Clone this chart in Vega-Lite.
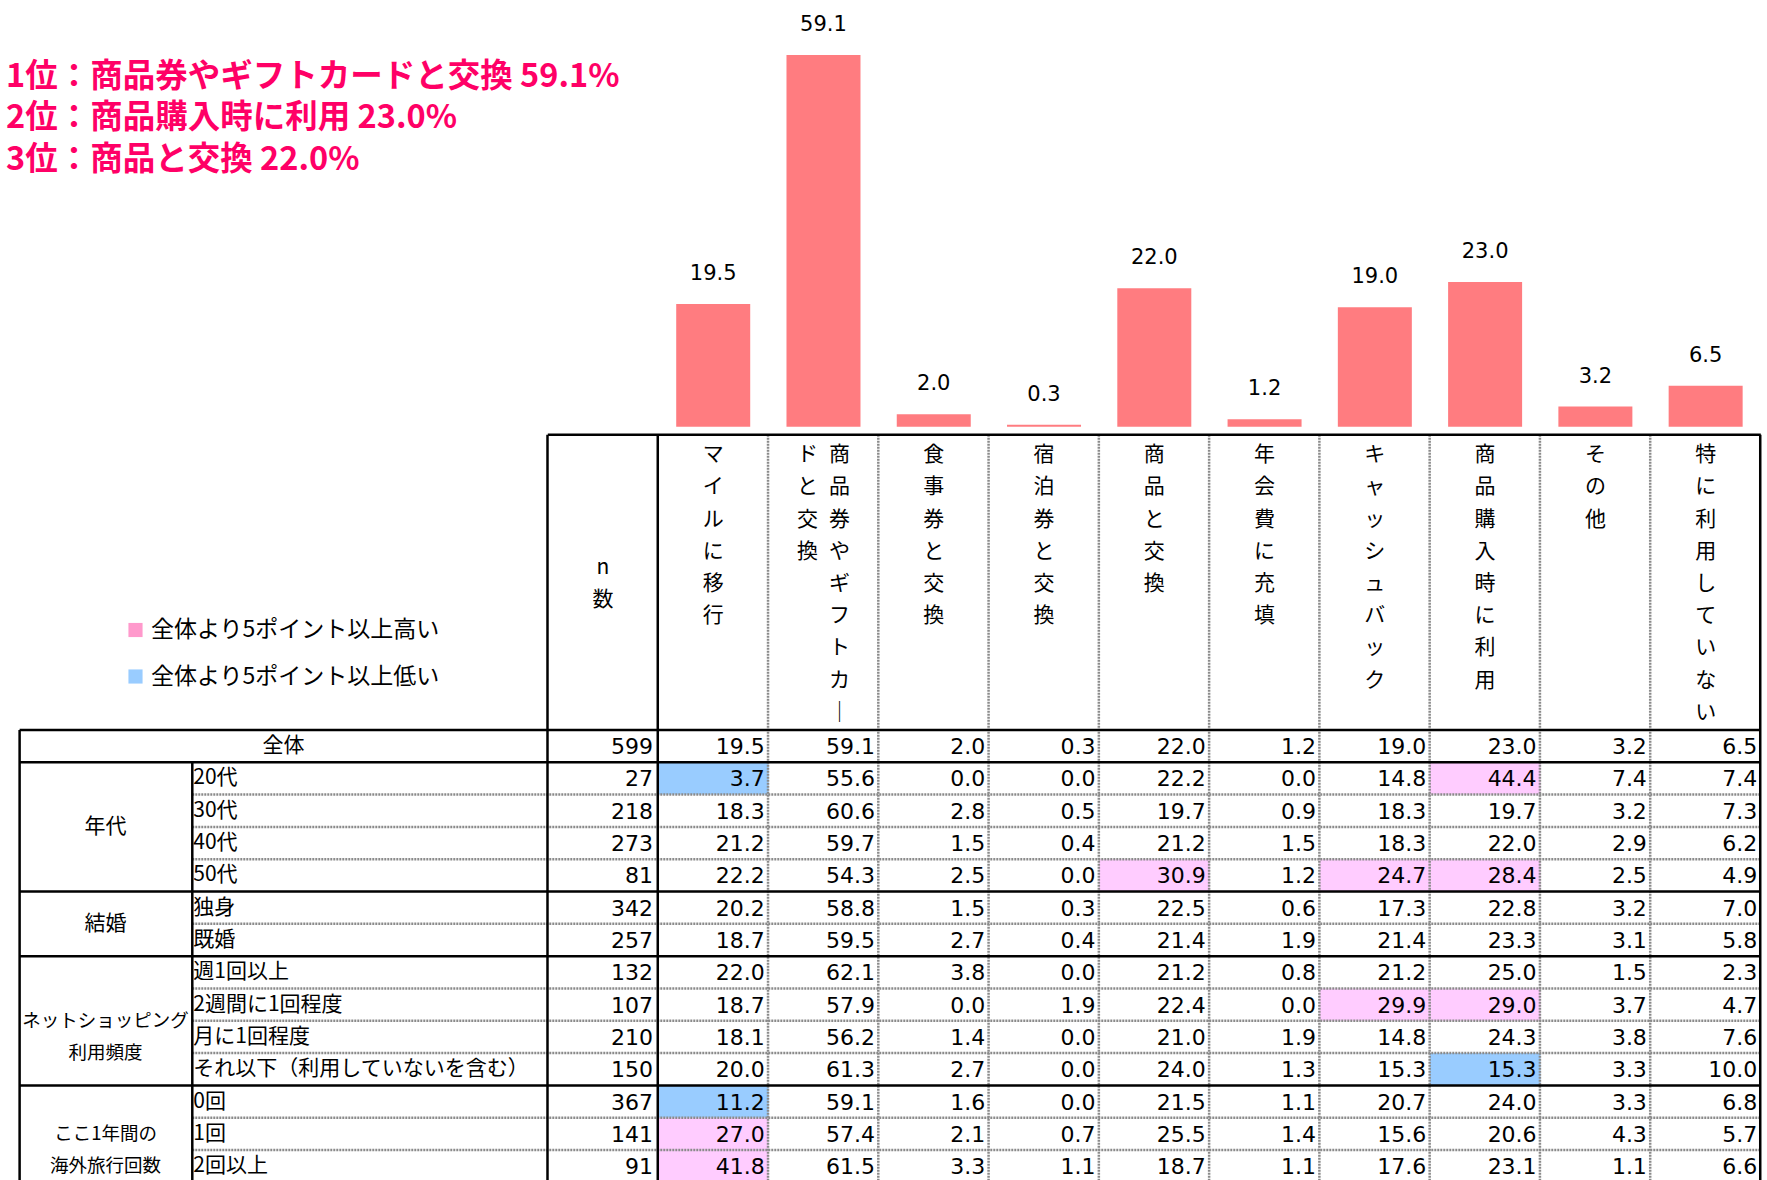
{
"$schema":"https://vega.github.io/schema/vega-lite/v6.json",
"width":1767,"height":1180,
"autosize":{"type":"none"},
"padding":0,
"background":"white",
"config":{"view":{"stroke":null},"axis":{"disable":true}},
"datasets":{
"cells":[
{"r":0,"c":1,"v":19.5},{"r":0,"c":2,"v":59.1},{"r":0,"c":3,"v":2.0},{"r":0,"c":4,"v":0.3},{"r":0,"c":5,"v":22.0},{"r":0,"c":6,"v":1.2},{"r":0,"c":7,"v":19.0},{"r":0,"c":8,"v":23.0},{"r":0,"c":9,"v":3.2},{"r":0,"c":10,"v":6.5},
{"r":1,"c":1,"v":3.7,"h":"低い"},{"r":1,"c":2,"v":55.6},{"r":1,"c":3,"v":0.0},{"r":1,"c":4,"v":0.0},{"r":1,"c":5,"v":22.2},{"r":1,"c":6,"v":0.0},{"r":1,"c":7,"v":14.8},{"r":1,"c":8,"v":44.4,"h":"高い"},{"r":1,"c":9,"v":7.4},{"r":1,"c":10,"v":7.4},
{"r":2,"c":1,"v":18.3},{"r":2,"c":2,"v":60.6},{"r":2,"c":3,"v":2.8},{"r":2,"c":4,"v":0.5},{"r":2,"c":5,"v":19.7},{"r":2,"c":6,"v":0.9},{"r":2,"c":7,"v":18.3},{"r":2,"c":8,"v":19.7},{"r":2,"c":9,"v":3.2},{"r":2,"c":10,"v":7.3},
{"r":3,"c":1,"v":21.2},{"r":3,"c":2,"v":59.7},{"r":3,"c":3,"v":1.5},{"r":3,"c":4,"v":0.4},{"r":3,"c":5,"v":21.2},{"r":3,"c":6,"v":1.5},{"r":3,"c":7,"v":18.3},{"r":3,"c":8,"v":22.0},{"r":3,"c":9,"v":2.9},{"r":3,"c":10,"v":6.2},
{"r":4,"c":1,"v":22.2},{"r":4,"c":2,"v":54.3},{"r":4,"c":3,"v":2.5},{"r":4,"c":4,"v":0.0},{"r":4,"c":5,"v":30.9,"h":"高い"},{"r":4,"c":6,"v":1.2},{"r":4,"c":7,"v":24.7,"h":"高い"},{"r":4,"c":8,"v":28.4,"h":"高い"},{"r":4,"c":9,"v":2.5},{"r":4,"c":10,"v":4.9},
{"r":5,"c":1,"v":20.2},{"r":5,"c":2,"v":58.8},{"r":5,"c":3,"v":1.5},{"r":5,"c":4,"v":0.3},{"r":5,"c":5,"v":22.5},{"r":5,"c":6,"v":0.6},{"r":5,"c":7,"v":17.3},{"r":5,"c":8,"v":22.8},{"r":5,"c":9,"v":3.2},{"r":5,"c":10,"v":7.0},
{"r":6,"c":1,"v":18.7},{"r":6,"c":2,"v":59.5},{"r":6,"c":3,"v":2.7},{"r":6,"c":4,"v":0.4},{"r":6,"c":5,"v":21.4},{"r":6,"c":6,"v":1.9},{"r":6,"c":7,"v":21.4},{"r":6,"c":8,"v":23.3},{"r":6,"c":9,"v":3.1},{"r":6,"c":10,"v":5.8},
{"r":7,"c":1,"v":22.0},{"r":7,"c":2,"v":62.1},{"r":7,"c":3,"v":3.8},{"r":7,"c":4,"v":0.0},{"r":7,"c":5,"v":21.2},{"r":7,"c":6,"v":0.8},{"r":7,"c":7,"v":21.2},{"r":7,"c":8,"v":25.0},{"r":7,"c":9,"v":1.5},{"r":7,"c":10,"v":2.3},
{"r":8,"c":1,"v":18.7},{"r":8,"c":2,"v":57.9},{"r":8,"c":3,"v":0.0},{"r":8,"c":4,"v":1.9},{"r":8,"c":5,"v":22.4},{"r":8,"c":6,"v":0.0},{"r":8,"c":7,"v":29.9,"h":"高い"},{"r":8,"c":8,"v":29.0,"h":"高い"},{"r":8,"c":9,"v":3.7},{"r":8,"c":10,"v":4.7},
{"r":9,"c":1,"v":18.1},{"r":9,"c":2,"v":56.2},{"r":9,"c":3,"v":1.4},{"r":9,"c":4,"v":0.0},{"r":9,"c":5,"v":21.0},{"r":9,"c":6,"v":1.9},{"r":9,"c":7,"v":14.8},{"r":9,"c":8,"v":24.3},{"r":9,"c":9,"v":3.8},{"r":9,"c":10,"v":7.6},
{"r":10,"c":1,"v":20.0},{"r":10,"c":2,"v":61.3},{"r":10,"c":3,"v":2.7},{"r":10,"c":4,"v":0.0},{"r":10,"c":5,"v":24.0},{"r":10,"c":6,"v":1.3},{"r":10,"c":7,"v":15.3},{"r":10,"c":8,"v":15.3,"h":"低い"},{"r":10,"c":9,"v":3.3},{"r":10,"c":10,"v":10.0},
{"r":11,"c":1,"v":11.2,"h":"低い"},{"r":11,"c":2,"v":59.1},{"r":11,"c":3,"v":1.6},{"r":11,"c":4,"v":0.0},{"r":11,"c":5,"v":21.5},{"r":11,"c":6,"v":1.1},{"r":11,"c":7,"v":20.7},{"r":11,"c":8,"v":24.0},{"r":11,"c":9,"v":3.3},{"r":11,"c":10,"v":6.8},
{"r":12,"c":1,"v":27.0,"h":"高い"},{"r":12,"c":2,"v":57.4},{"r":12,"c":3,"v":2.1},{"r":12,"c":4,"v":0.7},{"r":12,"c":5,"v":25.5},{"r":12,"c":6,"v":1.4},{"r":12,"c":7,"v":15.6},{"r":12,"c":8,"v":20.6},{"r":12,"c":9,"v":4.3},{"r":12,"c":10,"v":5.7},
{"r":13,"c":1,"v":41.8,"h":"高い"},{"r":13,"c":2,"v":61.5},{"r":13,"c":3,"v":3.3},{"r":13,"c":4,"v":1.1},{"r":13,"c":5,"v":18.7},{"r":13,"c":6,"v":1.1},{"r":13,"c":7,"v":17.6},{"r":13,"c":8,"v":23.1},{"r":13,"c":9,"v":1.1},{"r":13,"c":10,"v":6.6}
],
"rows":[
{"r":0,"g":"全体","t":"全体","n":599},
{"r":1,"g":"年代","t":"20代","n":27},
{"r":2,"g":"年代","t":"30代","n":218},
{"r":3,"g":"年代","t":"40代","n":273},
{"r":4,"g":"年代","t":"50代","n":81},
{"r":5,"g":"結婚","t":"独身","n":342},
{"r":6,"g":"結婚","t":"既婚","n":257},
{"r":7,"g":"ネットショッピング\n利用頻度","t":"週1回以上","n":132},
{"r":8,"g":"ネットショッピング\n利用頻度","t":"2週間に1回程度","n":107},
{"r":9,"g":"ネットショッピング\n利用頻度","t":"月に1回程度","n":210},
{"r":10,"g":"ネットショッピング\n利用頻度","t":"それ以下（利用していないを含む）","n":150},
{"r":11,"g":"ここ1年間の\n海外旅行回数","t":"0回","n":367},
{"r":12,"g":"ここ1年間の\n海外旅行回数","t":"1回","n":141},
{"r":13,"g":"ここ1年間の\n海外旅行回数","t":"2回以上","n":91}
],
"heads":[
{"c":0,"t":["n","数"]},
{"c":1,"t":["マ","イ","ル","に","移","行"]},
{"c":2,"t":["商","品","券","や","ギ","フ","ト","カ","｜"],"t2":["ド","と","交","換"]},
{"c":3,"t":["食","事","券","と","交","換"]},
{"c":4,"t":["宿","泊","券","と","交","換"]},
{"c":5,"t":["商","品","と","交","換"]},
{"c":6,"t":["年","会","費","に","充","填"]},
{"c":7,"t":["キ","ャ","ッ","シ","ュ","バ","ッ","ク"]},
{"c":8,"t":["商","品","購","入","時","に","利","用"]},
{"c":9,"t":["そ","の","他"]},
{"c":10,"t":["特","に","利","用","し","て","い","な","い"]}
]
},
"resolve":{"scale":{"y":"independent"}},
"layer":[
{"layer":[
 {"data":{"name":"cells"},"transform":[{"filter":"datum.r == 0"}],
  "mark":{"type":"bar","orient":"vertical","width":74,"color":"#FF7C80"},
  "encoding":{"x":{"field":"c","type":"quantitative","scale":{"domain":[-5.4225,10.511],"nice":false,"zero":false}},
   "y":{"field":"v","type":"quantitative","scale":{"domain":[-119.78,67.85],"nice":false,"zero":false}},
   "y2":{"datum":0}}},
 {"data":{"name":"cells"},"transform":[{"filter":"datum.r == 0"}],
  "mark":{"type":"text","baseline":"alphabetic","dy":-24,"font":"DejaVu Sans","fontSize":21,"color":"#000000"},
  "encoding":{"x":{"field":"c","type":"quantitative","scale":{"domain":[-5.4225,10.511],"nice":false,"zero":false}},
   "y":{"field":"v","type":"quantitative","scale":{"domain":[-119.78,67.85],"nice":false,"zero":false}},
   "text":{"field":"v","type":"quantitative","format":".1f"}}},
 {"data":{"values":[{}]},
  "mark":{"type":"text","align":"left","baseline":"top","font":"Noto Sans CJK JP","fontSize":32.5,"fontWeight":"bold","color":"#FF0066","lineHeight":41.5},
  "encoding":{"x":{"datum":-5.4135,"type":"quantitative","scale":{"domain":[-5.4225,10.511],"nice":false,"zero":false}},
   "y":{"datum":58.17,"type":"quantitative","scale":{"domain":[-119.78,67.85],"nice":false,"zero":false}},
   "text":{"value":["1位：商品券やギフトカードと交換 59.1%","2位：商品購入時に利用 23.0%","3位：商品と交換 22.0%"]}}}
]},
{"layer":[
 {"data":{"name":"cells"},"transform":[{"filter":"isValid(datum.h)"}],
  "mark":{"type":"square","size":150,"opacity":1,"filled":true},
  "encoding":{"x":{"field":"c","type":"quantitative","scale":{"domain":[-5.4225,10.511],"nice":false,"zero":false}},
   "y":{"field":"r","type":"quantitative","scale":{"domain":[-23.094,13.428],"nice":false,"zero":false,"reverse":true}},
   "color":{"field":"h","type":"nominal","scale":{"domain":["高い","低い"],"range":["#FF99CC","#99CCFF"]},
    "legend":{"orient":"none","legendX":124,"legendY":618.5,"title":null,"direction":"vertical","padding":0,
     "symbolType":"square","symbolSize":200,"symbolStrokeWidth":0,"symbolOpacity":1,"labelOffset":4,"rowPadding":22.5,
     "labelFont":"Noto Sans CJK JP","labelFontSize":23,"labelColor":"#000000","labelLimit":500,
     "labelExpr":"'全体より5ポイント以上' + datum.label"}}}},
 {"data":{"name":"cells"},"transform":[{"filter":"isValid(datum.h)"}],
  "mark":{"type":"rect","xOffset":-55.45,"x2Offset":55.45,"yOffset":-16.155,"y2Offset":16.155},
  "encoding":{"x":{"field":"c","type":"quantitative","scale":{"domain":[-5.4225,10.511],"nice":false,"zero":false}},
   "x2":{"field":"c"},
   "y":{"field":"r","type":"quantitative","scale":{"domain":[-23.094,13.428],"nice":false,"zero":false,"reverse":true}},
   "y2":{"field":"r"},
   "fill":{"field":"h","type":"nominal","scale":{"domain":["高い","低い"],"range":["#FFCCFF","#99CCFF"]},"legend":null}}},
 {"data":{"name":"rows"},
  "transform":[{"window":[{"op":"max","field":"r","as":"rmax"}],"groupby":["g"],"frame":[null,null]},{"filter":"datum.r != datum.rmax"}],
  "mark":{"type":"rule","yOffset":16.155,"color":"#8a8a8a","strokeWidth":2.5,"strokeDash":[2,1]},
  "encoding":{"x":{"datum":-3.724,"type":"quantitative","scale":{"domain":[-5.4225,10.511],"nice":false,"zero":false}},
   "x2":{"datum":10.49},
   "y":{"field":"r","type":"quantitative","scale":{"domain":[-23.094,13.428],"nice":false,"zero":false,"reverse":true}}}},
 {"data":{"name":"heads"},"transform":[{"filter":"datum.c >= 2"}],
  "mark":{"type":"rule","xOffset":-55.45,"color":"#8a8a8a","strokeWidth":2.5,"strokeDash":[2,1]},
  "encoding":{"x":{"field":"c","type":"quantitative","scale":{"domain":[-5.4225,10.511],"nice":false,"zero":false}},
   "y":{"datum":-9.64,"type":"quantitative","scale":{"domain":[-23.094,13.428],"nice":false,"zero":false,"reverse":true}},
   "y2":{"datum":13.5}}},
 {"data":{"name":"rows"},
  "transform":[{"window":[{"op":"max","field":"r","as":"rmax"}],"groupby":["g"],"frame":[null,null]},{"filter":"datum.r == datum.rmax && datum.r < 13"}],
  "mark":{"type":"rule","yOffset":16.155,"color":"#000000","strokeWidth":2.5},
  "encoding":{"x":{"datum":-5.29,"type":"quantitative","scale":{"domain":[-5.4225,10.511],"nice":false,"zero":false}},
   "x2":{"datum":10.5},
   "y":{"field":"r","type":"quantitative","scale":{"domain":[-23.094,13.428],"nice":false,"zero":false,"reverse":true}}}},
 {"data":{"values":[{}]},
  "mark":{"type":"rule","color":"#000000","strokeWidth":2.5},
  "encoding":{"x":{"datum":-5.29,"type":"quantitative","scale":{"domain":[-5.4225,10.511],"nice":false,"zero":false}},
   "x2":{"datum":10.5},
   "y":{"datum":-0.5,"type":"quantitative","scale":{"domain":[-23.094,13.428],"nice":false,"zero":false,"reverse":true}}}},
 {"data":{"values":[{}]},
  "mark":{"type":"rule","color":"#000000","strokeWidth":2.5},
  "encoding":{"x":{"datum":-0.5,"type":"quantitative","scale":{"domain":[-5.4225,10.511],"nice":false,"zero":false}},
   "x2":{"datum":10.5},
   "y":{"datum":-9.64,"type":"quantitative","scale":{"domain":[-23.094,13.428],"nice":false,"zero":false,"reverse":true}}}},
 {"data":{"name":"heads"},"transform":[{"filter":"datum.c <= 1"}],
  "mark":{"type":"rule","xOffset":-55.45,"color":"#000000","strokeWidth":2.5},
  "encoding":{"x":{"field":"c","type":"quantitative","scale":{"domain":[-5.4225,10.511],"nice":false,"zero":false}},
   "y":{"datum":-9.64,"type":"quantitative","scale":{"domain":[-23.094,13.428],"nice":false,"zero":false,"reverse":true}},
   "y2":{"datum":13.5}}},
 {"data":{"values":[{}]},
  "mark":{"type":"rule","color":"#000000","strokeWidth":2.5},
  "encoding":{"x":{"datum":10.495,"type":"quantitative","scale":{"domain":[-5.4225,10.511],"nice":false,"zero":false}},
   "y":{"datum":-9.64,"type":"quantitative","scale":{"domain":[-23.094,13.428],"nice":false,"zero":false,"reverse":true}},
   "y2":{"datum":13.5}}},
 {"data":{"values":[{}]},
  "mark":{"type":"rule","color":"#000000","strokeWidth":2.5},
  "encoding":{"x":{"datum":-5.29,"type":"quantitative","scale":{"domain":[-5.4225,10.511],"nice":false,"zero":false}},
   "y":{"datum":-0.5,"type":"quantitative","scale":{"domain":[-23.094,13.428],"nice":false,"zero":false,"reverse":true}},
   "y2":{"datum":13.5}}},
 {"data":{"values":[{}]},
  "mark":{"type":"rule","color":"#000000","strokeWidth":2.5},
  "encoding":{"x":{"datum":-3.724,"type":"quantitative","scale":{"domain":[-5.4225,10.511],"nice":false,"zero":false}},
   "y":{"datum":0.5,"type":"quantitative","scale":{"domain":[-23.094,13.428],"nice":false,"zero":false,"reverse":true}},
   "y2":{"datum":13.5}}},
 {"data":{"name":"heads"},"transform":[{"filter":"datum.c >= 1 && datum.c != 2"}],
  "mark":{"type":"text","align":"center","baseline":"top","font":"Noto Sans CJK JP","fontSize":21,"color":"#000000","lineHeight":32.2},
  "encoding":{"x":{"field":"c","type":"quantitative","scale":{"domain":[-5.4225,10.511],"nice":false,"zero":false}},
   "y":{"datum":-9.3425,"type":"quantitative","scale":{"domain":[-23.094,13.428],"nice":false,"zero":false,"reverse":true}},
   "text":{"field":"t","type":"nominal"}}},
 {"data":{"name":"heads"},"transform":[{"filter":"datum.c == 2"}],
  "mark":{"type":"text","align":"center","baseline":"top","dx":16,"font":"Noto Sans CJK JP","fontSize":21,"color":"#000000","lineHeight":32.2},
  "encoding":{"x":{"field":"c","type":"quantitative","scale":{"domain":[-5.4225,10.511],"nice":false,"zero":false}},
   "y":{"datum":-9.3425,"type":"quantitative","scale":{"domain":[-23.094,13.428],"nice":false,"zero":false,"reverse":true}},
   "text":{"field":"t","type":"nominal"}}},
 {"data":{"name":"heads"},"transform":[{"filter":"datum.c == 2"}],
  "mark":{"type":"text","align":"center","baseline":"top","dx":-16,"font":"Noto Sans CJK JP","fontSize":21,"color":"#000000","lineHeight":32.2},
  "encoding":{"x":{"field":"c","type":"quantitative","scale":{"domain":[-5.4225,10.511],"nice":false,"zero":false}},
   "y":{"datum":-9.3425,"type":"quantitative","scale":{"domain":[-23.094,13.428],"nice":false,"zero":false,"reverse":true}},
   "text":{"field":"t2","type":"nominal"}}},
 {"data":{"name":"heads"},"transform":[{"filter":"datum.c == 0"}],
  "mark":{"type":"text","align":"center","baseline":"top","font":"Noto Sans CJK JP","fontSize":21,"color":"#000000","lineHeight":31.6},
  "encoding":{"x":{"field":"c","type":"quantitative","scale":{"domain":[-5.4225,10.511],"nice":false,"zero":false}},
   "y":{"datum":-5.851,"type":"quantitative","scale":{"domain":[-23.094,13.428],"nice":false,"zero":false,"reverse":true}},
   "text":{"field":"t","type":"nominal"}}},
 {"data":{"name":"cells"},
  "mark":{"type":"text","align":"right","baseline":"middle","dx":51.5,"dy":1,"font":"DejaVu Sans","fontSize":22,"color":"#000000"},
  "encoding":{"x":{"field":"c","type":"quantitative","scale":{"domain":[-5.4225,10.511],"nice":false,"zero":false}},
   "y":{"field":"r","type":"quantitative","scale":{"domain":[-23.094,13.428],"nice":false,"zero":false,"reverse":true}},
   "text":{"field":"v","type":"quantitative","format":".1f"}}},
 {"data":{"name":"rows"},
  "mark":{"type":"text","align":"right","baseline":"middle","dx":50,"dy":1,"font":"DejaVu Sans","fontSize":22,"color":"#000000"},
  "encoding":{"x":{"datum":0,"type":"quantitative","scale":{"domain":[-5.4225,10.511],"nice":false,"zero":false}},
   "y":{"field":"r","type":"quantitative","scale":{"domain":[-23.094,13.428],"nice":false,"zero":false,"reverse":true}},
   "text":{"field":"n","type":"quantitative","format":"d"}}},
 {"data":{"name":"rows"},"transform":[{"filter":"datum.r > 0"}],
  "mark":{"type":"text","align":"left","baseline":"middle","dx":1,"font":"Noto Sans CJK JP","fontSize":21,"color":"#000000"},
  "encoding":{"x":{"datum":-3.724,"type":"quantitative","scale":{"domain":[-5.4225,10.511],"nice":false,"zero":false}},
   "y":{"field":"r","type":"quantitative","scale":{"domain":[-23.094,13.428],"nice":false,"zero":false,"reverse":true}},
   "text":{"field":"t","type":"nominal"}}},
 {"data":{"name":"rows"},"transform":[{"filter":"datum.r == 0"}],
  "mark":{"type":"text","align":"center","baseline":"middle","font":"Noto Sans CJK JP","fontSize":21,"color":"#000000"},
  "encoding":{"x":{"datum":-2.898,"type":"quantitative","scale":{"domain":[-5.4225,10.511],"nice":false,"zero":false}},
   "y":{"field":"r","type":"quantitative","scale":{"domain":[-23.094,13.428],"nice":false,"zero":false,"reverse":true}},
   "text":{"field":"t","type":"nominal"}}},
 {"data":{"name":"rows"},"transform":[{"filter":"datum.r > 0"},{"aggregate":[{"op":"mean","field":"r","as":"rm"}],"groupby":["g"]},{"filter":"indexof(datum.g, '\\n') < 0"}],
  "mark":{"type":"text","align":"center","baseline":"middle","font":"Noto Sans CJK JP","fontSize":21,"color":"#000000"},
  "encoding":{"x":{"datum":-4.51,"type":"quantitative","scale":{"domain":[-5.4225,10.511],"nice":false,"zero":false}},
   "y":{"field":"rm","type":"quantitative","scale":{"domain":[-23.094,13.428],"nice":false,"zero":false,"reverse":true}},
   "text":{"field":"g","type":"nominal"}}},
 {"data":{"name":"rows"},"transform":[{"filter":"datum.r > 0"},{"aggregate":[{"op":"mean","field":"r","as":"rm"}],"groupby":["g"]},{"filter":"indexof(datum.g, '\\n') >= 0"}],
  "mark":{"type":"text","align":"center","baseline":"middle","font":"Noto Sans CJK JP","fontSize":18.5,"color":"#000000","lineBreak":"\n","lineHeight":32},
  "encoding":{"x":{"datum":-4.51,"type":"quantitative","scale":{"domain":[-5.4225,10.511],"nice":false,"zero":false}},
   "y":{"field":"rm","type":"quantitative","scale":{"domain":[-23.094,13.428],"nice":false,"zero":false,"reverse":true}},
   "text":{"field":"g","type":"nominal"}}}
]}
]
}
